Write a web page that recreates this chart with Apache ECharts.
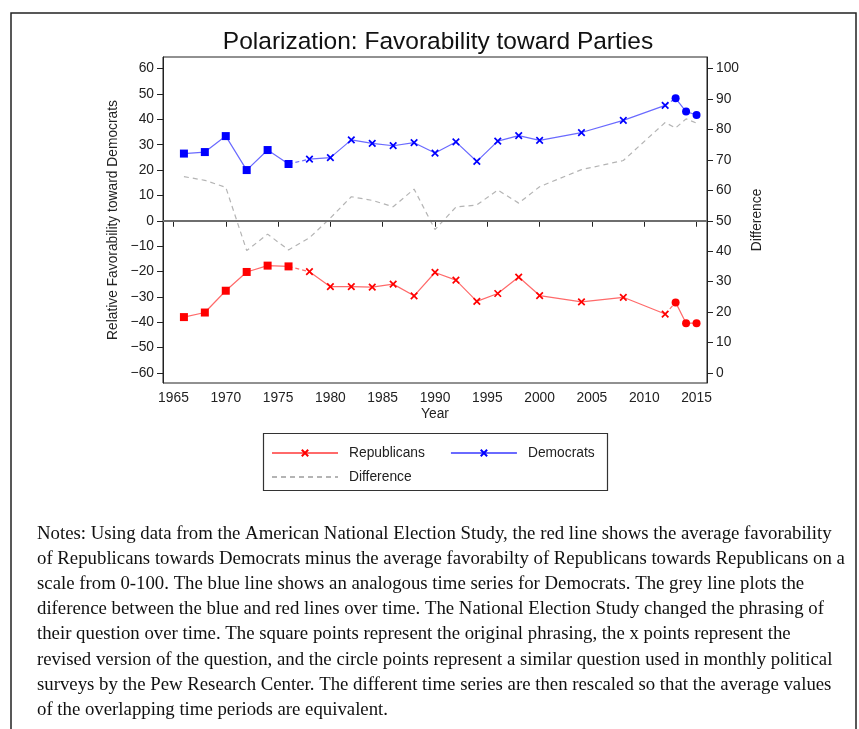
<!DOCTYPE html>
<html>
<head>
<meta charset="utf-8">
<script src="https://cdn.jsdelivr.net/npm/echarts@6/dist/echarts.min.js"></script>
<style>
  html, body { margin: 0; padding: 0; background: #fff; }
  #chart { width: 859px; height: 729px; }
</style>
</head>
<body>
<div id="chart"></div>
<script>
// ANES favorability series (relative favorability toward Democrats)
const sqYears = [1966, 1968, 1970, 1972, 1974, 1976];
const xYears = [1978, 1980, 1982, 1984, 1986, 1988, 1990, 1992, 1994, 1996, 1998, 2000, 2004, 2008, 2012];
const pewYears = [2013, 2014, 2015];

const demSquare = [26.5, 27.1, 33.4, 20.0, 27.9, 22.4];
const demX = [24.3, 24.9, 31.9, 30.5, 29.6, 30.8, 26.7, 31.1, 23.4, 31.4, 33.6, 31.7, 34.8, 39.6, 45.5];
const demPew = [48.3, 43.1, 41.7];

const repSquare = [-38.0, -36.2, -27.6, -20.2, -17.7, -18.0];
const repX = [-20.1, -26.0, -26.0, -26.2, -25.0, -29.6, -20.4, -23.4, -31.8, -28.7, -22.2, -29.5, -32.0, -30.2, -36.8];
const repPew = [-32.2, -40.4, -40.4];

// Gap between the two parties (right axis)
const diffYears = [1966, 1968, 1970, 1972, 1974, 1976, 1978, 1980, 1982, 1984, 1986, 1988, 1990, 1992, 1994, 1996, 1998, 2000, 2004, 2008, 2012, 2013, 2014, 2015];
const diffValues = [64.5, 63.3, 61.0, 40.2, 45.6, 40.4, 44.4, 50.9, 57.9, 56.7, 54.6, 60.4, 47.1, 54.5, 55.2, 60.1, 55.8, 61.2, 66.8, 69.8, 82.3, 80.5, 83.5, 82.1];

// Tick labels
const yearTicks = [1965, 1970, 1975, 1980, 1985, 1990, 1995, 2000, 2005, 2010, 2015];
const leftTicks = [-60, -50, -40, -30, -20, -10, 0, 10, 20, 30, 40, 50, 60];
const rightTicks = [0, 10, 20, 30, 40, 50, 60, 70, 80, 90, 100];

const noteLines = [
  'Notes: Using data from the American National Election Study, the red line shows the average favorability',
  'of Republicans towards Democrats minus the average favorabilty of Republicans towards Republicans on a',
  'scale from 0-100. The blue line shows an analogous time series for Democrats. The grey line plots the',
  'diference between the blue and red lines over time. The National Election Study changed the phrasing of',
  'their question over time. The square points represent the original phrasing, the x points represent the',
  'revised version of the question, and the circle points represent a similar question used in monthly political',
  'surveys by the Pew Research Center. The different time series are then rescaled so that the average values',
  'of the overlapping time periods are equivalent.'
];

const zip = (xs, ys) => xs.map((x, i) => [x, ys[i]]);
const CROSS = 'path://M0,0L10,10M10,0L0,10';
const SANS = "'Liberation Sans', Arial, Helvetica, sans-serif";
const SERIF = "'Liberation Serif', 'Times New Roman', serif";
const plainNumber = v => String(v).replace('-', '\u2212');

function segment(name, data, color, lineColor, symbol, size) {
  return {
    name: name,
    type: 'line',
    data: data,
    symbol: symbol,
    symbolSize: size,
    showAllSymbol: true,
    animation: false,
    z: 3,
    lineStyle: { color: lineColor, width: 1.2 },
    itemStyle: { color: color, borderColor: color, borderWidth: symbol === CROSS ? 1.7 : 0, opacity: 1 }
  };
}

function connector(name, a, b, lineColor) {
  return {
    name: name,
    type: 'line',
    data: [a, b],
    symbol: 'none',
    animation: false,
    z: 2,
    lineStyle: { color: lineColor, width: 1.2, type: [4, 3] }
  };
}

const RED = '#ff0000', RED_LINE = '#ff6a6a';
const BLUE = '#0000ff', BLUE_LINE = '#6a6aff';
const LEGEND_TEXT = { fontFamily: SANS, fontSize: 13.8, color: '#222', padding: [0, 0, 0, 6] };

const chart = echarts.init(document.getElementById('chart'), null, { renderer: 'canvas' });

const option = {
  backgroundColor: '#ffffff',
  animation: false,
  title: {
    text: 'Polarization: Favorability toward Parties',
    left: 433,
    textAlign: 'center',
    top: 25,
    textStyle: { fontFamily: SANS, fontSize: 24.5, fontWeight: 'normal', color: '#111' }
  },
  grid: {
    left: 163, top: 57, width: 544, height: 326,
    show: true, borderColor: '#222', borderWidth: 1, backgroundColor: 'transparent'
  },
  legend: [
    {
      data: ['Republicans', 'Democrats'],
      left: 271, top: 446, padding: 0,
      itemWidth: 66, itemHeight: 8, itemGap: 25,
      selectedMode: false,
      textStyle: LEGEND_TEXT
    },
    {
      data: [{ name: 'Difference', itemStyle: { opacity: 0 } }],
      left: 271, top: 470, padding: 0,
      itemWidth: 66, itemHeight: 8,
      selectedMode: false,
      textStyle: LEGEND_TEXT
    }
  ],
  xAxis: {
    type: 'value',
    min: 1964, max: 2016,
    name: 'Year', nameLocation: 'middle', nameGap: 24,
    nameTextStyle: { fontFamily: SANS, fontSize: 13.8, color: '#222' },
    axisLine: { show: true, lineStyle: { color: '#222', width: 1 } },
    axisTick: { show: true, length: 6, lineStyle: { color: '#222' }, customValues: yearTicks },
    axisLabel: { customValues: yearTicks, formatter: plainNumber, margin: 8, fontFamily: SANS, fontSize: 13.8, color: '#222' },
    splitLine: { show: false }
  },
  yAxis: [
    {
      type: 'value', position: 'left',
      min: -64, max: 64.6,
      name: 'Relative Favorability toward Democrats', nameLocation: 'middle', nameGap: 39,
      nameTextStyle: { fontFamily: SANS, fontSize: 13.8, color: '#222' },
      axisLine: { show: true, lineStyle: { color: '#222', width: 1 } },
      axisTick: { show: true, length: 6, lineStyle: { color: '#222' }, customValues: leftTicks },
      axisLabel: { customValues: leftTicks, formatter: plainNumber, margin: 9, fontFamily: SANS, fontSize: 13.8, color: '#222' },
      splitLine: { show: false }
    },
    {
      type: 'value', position: 'right',
      min: 50 - 64 * 50 / 60, max: 50 + 64.6 * 50 / 60,
      name: 'Difference', nameLocation: 'middle', nameGap: 40, nameRotate: 90,
      nameTextStyle: { fontFamily: SANS, fontSize: 13.8, color: '#222' },
      axisLine: { show: true, lineStyle: { color: '#222', width: 1 } },
      axisTick: { show: true, length: 6, lineStyle: { color: '#222' }, customValues: rightTicks },
      axisLabel: { customValues: rightTicks, formatter: plainNumber, margin: 9, fontFamily: SANS, fontSize: 13.8, color: '#222' },
      splitLine: { show: false }
    }
  ],
  series: [
    {
      name: 'Difference',
      type: 'line',
      yAxisIndex: 1,
      data: zip(diffYears, diffValues),
      symbol: 'circle',
      symbolSize: 1,
      showSymbol: false,
      animation: false,
      z: 1,
      lineStyle: { color: '#b4b4b4', width: 1.2, type: [5, 4] },
      itemStyle: { color: '#b4b4b4' },
      markLine: {
        silent: true, symbol: 'none', animation: false,
        label: { show: false },
        lineStyle: { color: '#6e6e6e', width: 2, type: 'solid', opacity: 1 },
        data: [{ yAxis: 50 }]
      }
    },
    // Republicans: original wording (squares), revised wording (x), Pew (circles)
    segment('Republicans (original)', zip(sqYears, repSquare), RED, RED_LINE, 'rect', 8),
    connector('Republicans link 1', [sqYears[sqYears.length - 1], repSquare[repSquare.length - 1]], [xYears[0], repX[0]], RED_LINE),
    segment('Republicans', zip(xYears, repX), RED, RED_LINE, CROSS, 6.5),
    connector('Republicans link 2', [xYears[xYears.length - 1], repX[repX.length - 1]], [pewYears[0], repPew[0]], RED_LINE),
    segment('Republicans (Pew)', zip(pewYears, repPew), RED, RED_LINE, 'circle', 8),
    // Democrats
    segment('Democrats (original)', zip(sqYears, demSquare), BLUE, BLUE_LINE, 'rect', 8),
    connector('Democrats link 1', [sqYears[sqYears.length - 1], demSquare[demSquare.length - 1]], [xYears[0], demX[0]], BLUE_LINE),
    segment('Democrats', zip(xYears, demX), BLUE, BLUE_LINE, CROSS, 6.5),
    connector('Democrats link 2', [xYears[xYears.length - 1], demX[demX.length - 1]], [pewYears[0], demPew[0]], BLUE_LINE),
    segment('Democrats (Pew)', zip(pewYears, demPew), BLUE, BLUE_LINE, 'circle', 8)
  ],
  graphic: [
    {
      type: 'rect', silent: true, z: 0,
      shape: { x: 11, y: 13, width: 845, height: 760 },
      style: { fill: 'none', stroke: '#222', lineWidth: 1.5 }
    },
    {
      type: 'rect', silent: true,
      shape: { x: 263.5, y: 433.5, width: 344, height: 57 },
      style: { fill: 'none', stroke: '#333', lineWidth: 1.2 }
    },
    {
      type: 'text', silent: true,
      left: 37, top: 521,
      style: {
        text: noteLines.join('\n'),
        font: '18.8px ' + SERIF,
        lineHeight: 25.2,
        fill: '#111'
      }
    }
  ]
};

chart.setOption(option);
</script>
</body>
</html>
